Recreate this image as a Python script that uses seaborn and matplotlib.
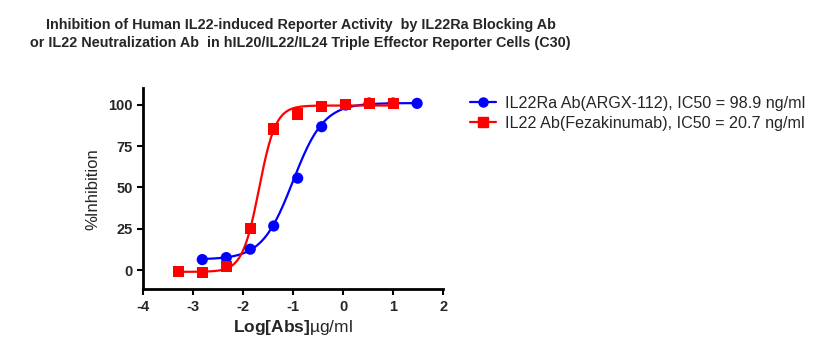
import matplotlib
matplotlib.use("Agg")
import matplotlib.pyplot as plt
from matplotlib.lines import Line2D
import seaborn as sns
import pandas as pd
import numpy as np

# Data (log10 of antibody concentration, ug/ml)
blue_logc = [-2.82, -2.34, -1.86, -1.39, -0.91, -0.43, 0.05, 0.52, 1.00, 1.48]
blue_inh = [6.4, 7.6, 12.7, 26.7, 55.6, 86.7, 99.8, 101.0, 101.0, 100.8]
red_logc = [-3.29, -2.82, -2.34, -1.86, -1.39, -0.91, -0.43, 0.05, 0.52, 1.00]
red_inh = [-0.6, -1.4, 2.4, 25.1, 85.3, 94.4, 98.8, 100.0, 100.8, 100.8]

# 4PL fit parameters (bottom, top, logIC50, hill) estimated from the curves
blue_fit = (6.5, 101.0, np.log10(0.0989), 1.4)
red_fit = (-1.0, 99.5, np.log10(0.0207), 2.6)

blue_name = "IL22Ra Ab(ARGX-112), IC50 = 98.9 ng/ml"
red_name = "IL22 Ab(Fezakinumab), IC50 = 20.7 ng/ml"


def four_pl(x, bottom, top, logic50, hill):
    return bottom + (top - bottom) / (1 + 10 ** ((logic50 - x) * hill))


sns.set_style("ticks")
plt.rcParams["font.family"] = ["Liberation Sans", "DejaVu Sans"]
plt.rcParams["mathtext.fontset"] = "custom"
plt.rcParams["mathtext.bf"] = "Liberation Sans:bold"
plt.rcParams["mathtext.rm"] = "Liberation Sans"
plt.rcParams["axes.unicode_minus"] = False

fig = plt.figure(figsize=(8.19, 3.54), dpi=100)
ax = fig.add_axes([0.175, 0.183, 0.366, 0.568])

xb = np.linspace(min(blue_logc), max(blue_logc), 300)
xr = np.linspace(min(red_logc), max(red_logc), 300)
curves = pd.concat([
    pd.DataFrame({"x": xb, "y": four_pl(xb, *blue_fit), "s": blue_name}),
    pd.DataFrame({"x": xr, "y": four_pl(xr, *red_fit), "s": red_name}),
])
points = pd.concat([
    pd.DataFrame({"x": blue_logc, "y": blue_inh, "s": blue_name}),
    pd.DataFrame({"x": red_logc, "y": red_inh, "s": red_name}),
])
palette = {blue_name: "#0000ff", red_name: "#ff0000"}

sns.lineplot(data=curves, x="x", y="y", hue="s", palette=palette,
             linewidth=1.6, legend=False, ax=ax)
sns.scatterplot(data=points, x="x", y="y", hue="s", style="s",
                markers={blue_name: "o", red_name: "s"}, palette=palette,
                s=65, linewidth=0, legend=False, ax=ax, zorder=3)

ax.set_xlim(-4, 2)
ax.set_ylim(-11.5, 110)
ax.set_xticks(range(-4, 3))
ax.set_yticks([0, 25, 50, 75, 100])
for lab in ax.get_xticklabels() + ax.get_yticklabels():
    lab.set_fontweight("bold")
ax.tick_params(labelsize=10.5, width=1.5, length=4, color="black")
for sp in ["left", "bottom"]:
    ax.spines[sp].set_linewidth(2)
    ax.spines[sp].set_color("black")
sns.despine(ax=ax)
ax.set_xlabel(r"$\bf{Log[Abs]}$µg/ml", fontsize=12.5, labelpad=3)
ax.set_ylabel("%Inhibition", fontsize=12, labelpad=6)

fig.text(0.367, 0.905,
         "Inhibition of Human IL22-induced Reporter Activity  by IL22Ra Blocking Ab\n"
         "or IL22 Neutralization Ab  in hIL20/IL22/IL24 Triple Effector Reporter Cells (C30)",
         ha="center", va="center", fontsize=10.4, fontweight="bold", linespacing=1.35)

handles = [
    Line2D([], [], color="#0000ff", marker="o", markersize=6.5, linewidth=1.6),
    Line2D([], [], color="#ff0000", marker="s", markersize=6.5, linewidth=1.6),
]
fig.legend(handles, [blue_name, red_name], loc="upper left",
           bbox_to_anchor=(0.556, 0.77), frameon=False, fontsize=11.6,
           handlelength=1.6, handletextpad=0.6, labelspacing=0.3)

fig.savefig("out.png", dpi=100)
